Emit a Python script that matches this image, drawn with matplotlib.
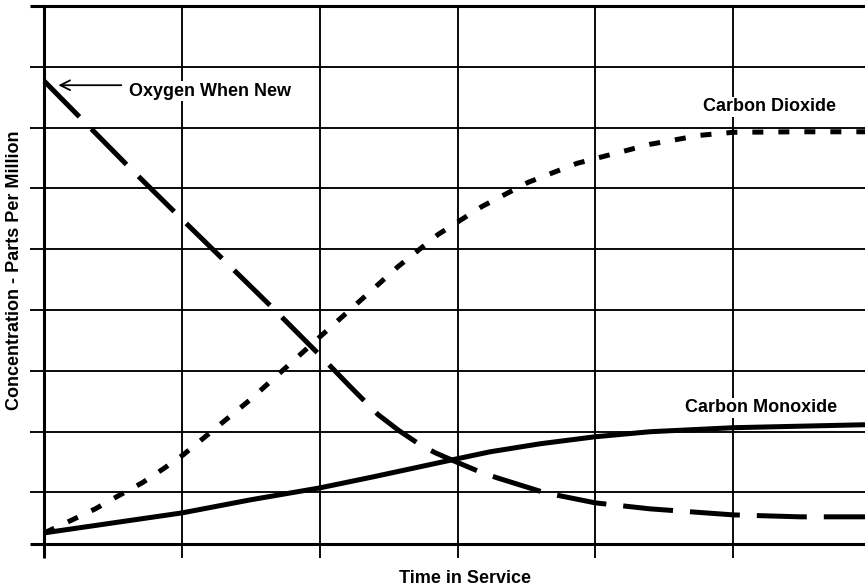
import matplotlib
matplotlib.use("Agg")
import matplotlib.pyplot as plt

plt.rcParams['font.family'] = ['Liberation Sans', 'DejaVu Sans']

# Time in service (grid units) and concentration (grid units) for each gas
oxygen_t = [0.0, 0.61, 1.038, 1.655, 1.996, 2.221, 2.344, 2.424, 2.576, 2.729,
            2.838, 2.997, 3.179, 3.287, 3.636, 3.999, 4.398, 5.0, 5.486, 5.958]
oxygen_c = [6.763, 5.362, 4.407, 3.04, 2.265, 1.738, 1.458, 1.277, 1.013, 0.782,
            0.651, 0.494, 0.321, 0.239, -0.008, -0.173, -0.272, -0.371, -0.403, -0.403]

co2_t = [0.0, 0.203, 0.370, 0.537, 0.711, 0.864, 1.009, 1.495, 2.003, 2.286,
         2.569, 2.859, 3.178, 3.512, 3.868, 4.398, 4.761, 5.0, 5.486, 5.958]
co2_c = [-0.667, -0.453, -0.272, -0.058, 0.157, 0.387, 0.618, 1.524, 2.562, 3.138,
         3.715, 4.242, 4.703, 5.099, 5.412, 5.725, 5.873, 5.922, 5.931, 5.931]

co_t = [0.0, 1.001, 1.495, 2.003, 2.388, 2.997, 3.237, 3.6, 3.999, 4.398, 5.0, 5.958]
co_c = [-0.667, -0.338, -0.124, 0.074, 0.255, 0.552, 0.667, 0.799, 0.914, 0.997,
        1.063, 1.112]

x_grid = [1, 2, 3, 4, 5]
y_grid = [0, 1, 2, 3, 4, 5, 6, 7]
x_limits = (0.0, 5.958)
y_limits = (-0.85, 8.0)

W, H = 865, 587
fig = plt.figure(figsize=(W / 100, H / 100), dpi=100)
ax = fig.add_axes([44.3 / W, 1 - 544 / H, 1 - 44.3 / W, (544 - 6) / H])
ax.set_xlim(*x_limits)
ax.set_ylim(*y_limits)

# frame: left, top, bottom; no right edge
for side in ('left', 'top', 'bottom'):
    ax.spines[side].set_linewidth(2.2)
ax.spines['right'].set_visible(False)

# grid
for gx in x_grid:
    ax.axvline(gx, color='black', lw=1.35, zorder=1)
for gy in y_grid:
    ax.axhline(gy, color='black', lw=1.35, zorder=1)

# ticks stick out past the frame, no labels
ax.set_xticks(x_grid)
ax.set_yticks(y_grid)
ax.set_xticks([x_limits[0]], minor=True)
ax.set_yticks(list(y_limits), minor=True)
ax.tick_params(which='major', direction='out', length=10, width=1.35,
               labelbottom=False, labelleft=False, color='black')
ax.tick_params(which='minor', direction='out', length=10, width=2.2,
               labelbottom=False, labelleft=False, color='black')

# curves
lw = 3.6
ax.plot(oxygen_t, oxygen_c, color='black', lw=lw, linestyle=(0, (10, 3.4)),
        dash_capstyle='butt', dash_joinstyle='round', zorder=3, clip_on=False)
ax.plot(co2_t, co2_c, color='black', lw=lw, linestyle=(0, (2.2, 3.0)),
        dash_capstyle='butt', dash_joinstyle='round', zorder=3, clip_on=False)
ax.plot(co_t, co_c, color='black', lw=lw, solid_capstyle='butt',
        solid_joinstyle='round', zorder=3, clip_on=False)

fs = 13
ax.annotate('', xy=(0.102, 6.697), xytext=(0.559, 6.697),
            arrowprops=dict(arrowstyle='->,head_length=0.7,head_width=0.35',
                            color='black', lw=1.3, shrinkA=0, shrinkB=0),
            zorder=4)
ax.text(0.617, 6.524, 'Oxygen When New', fontsize=fs, fontweight='bold',
        ha='left', va='baseline', zorder=4,
        bbox=dict(facecolor='white', edgecolor='none', pad=1))
ax.text(5.265, 6.269, 'Carbon Dioxide', fontsize=fs, fontweight='bold',
        ha='center', va='baseline', zorder=4,
        bbox=dict(facecolor='white', edgecolor='none', pad=1))
ax.text(5.2, 1.318, 'Carbon Monoxide', fontsize=fs, fontweight='bold',
        ha='center', va='baseline', zorder=4,
        bbox=dict(facecolor='white', edgecolor='none', pad=1))

fig.text(465 / W, 1 - 583 / H, 'Time in Service', fontsize=fs, fontweight='bold',
         ha='center', va='baseline')
fig.text(19 / W, 1 - 270 / H, 'Concentration - Parts Per Million', fontsize=fs,
         fontweight='bold', rotation=90, rotation_mode='anchor',
         ha='center', va='baseline')

fig.savefig('out.png', dpi=100, facecolor='white')
